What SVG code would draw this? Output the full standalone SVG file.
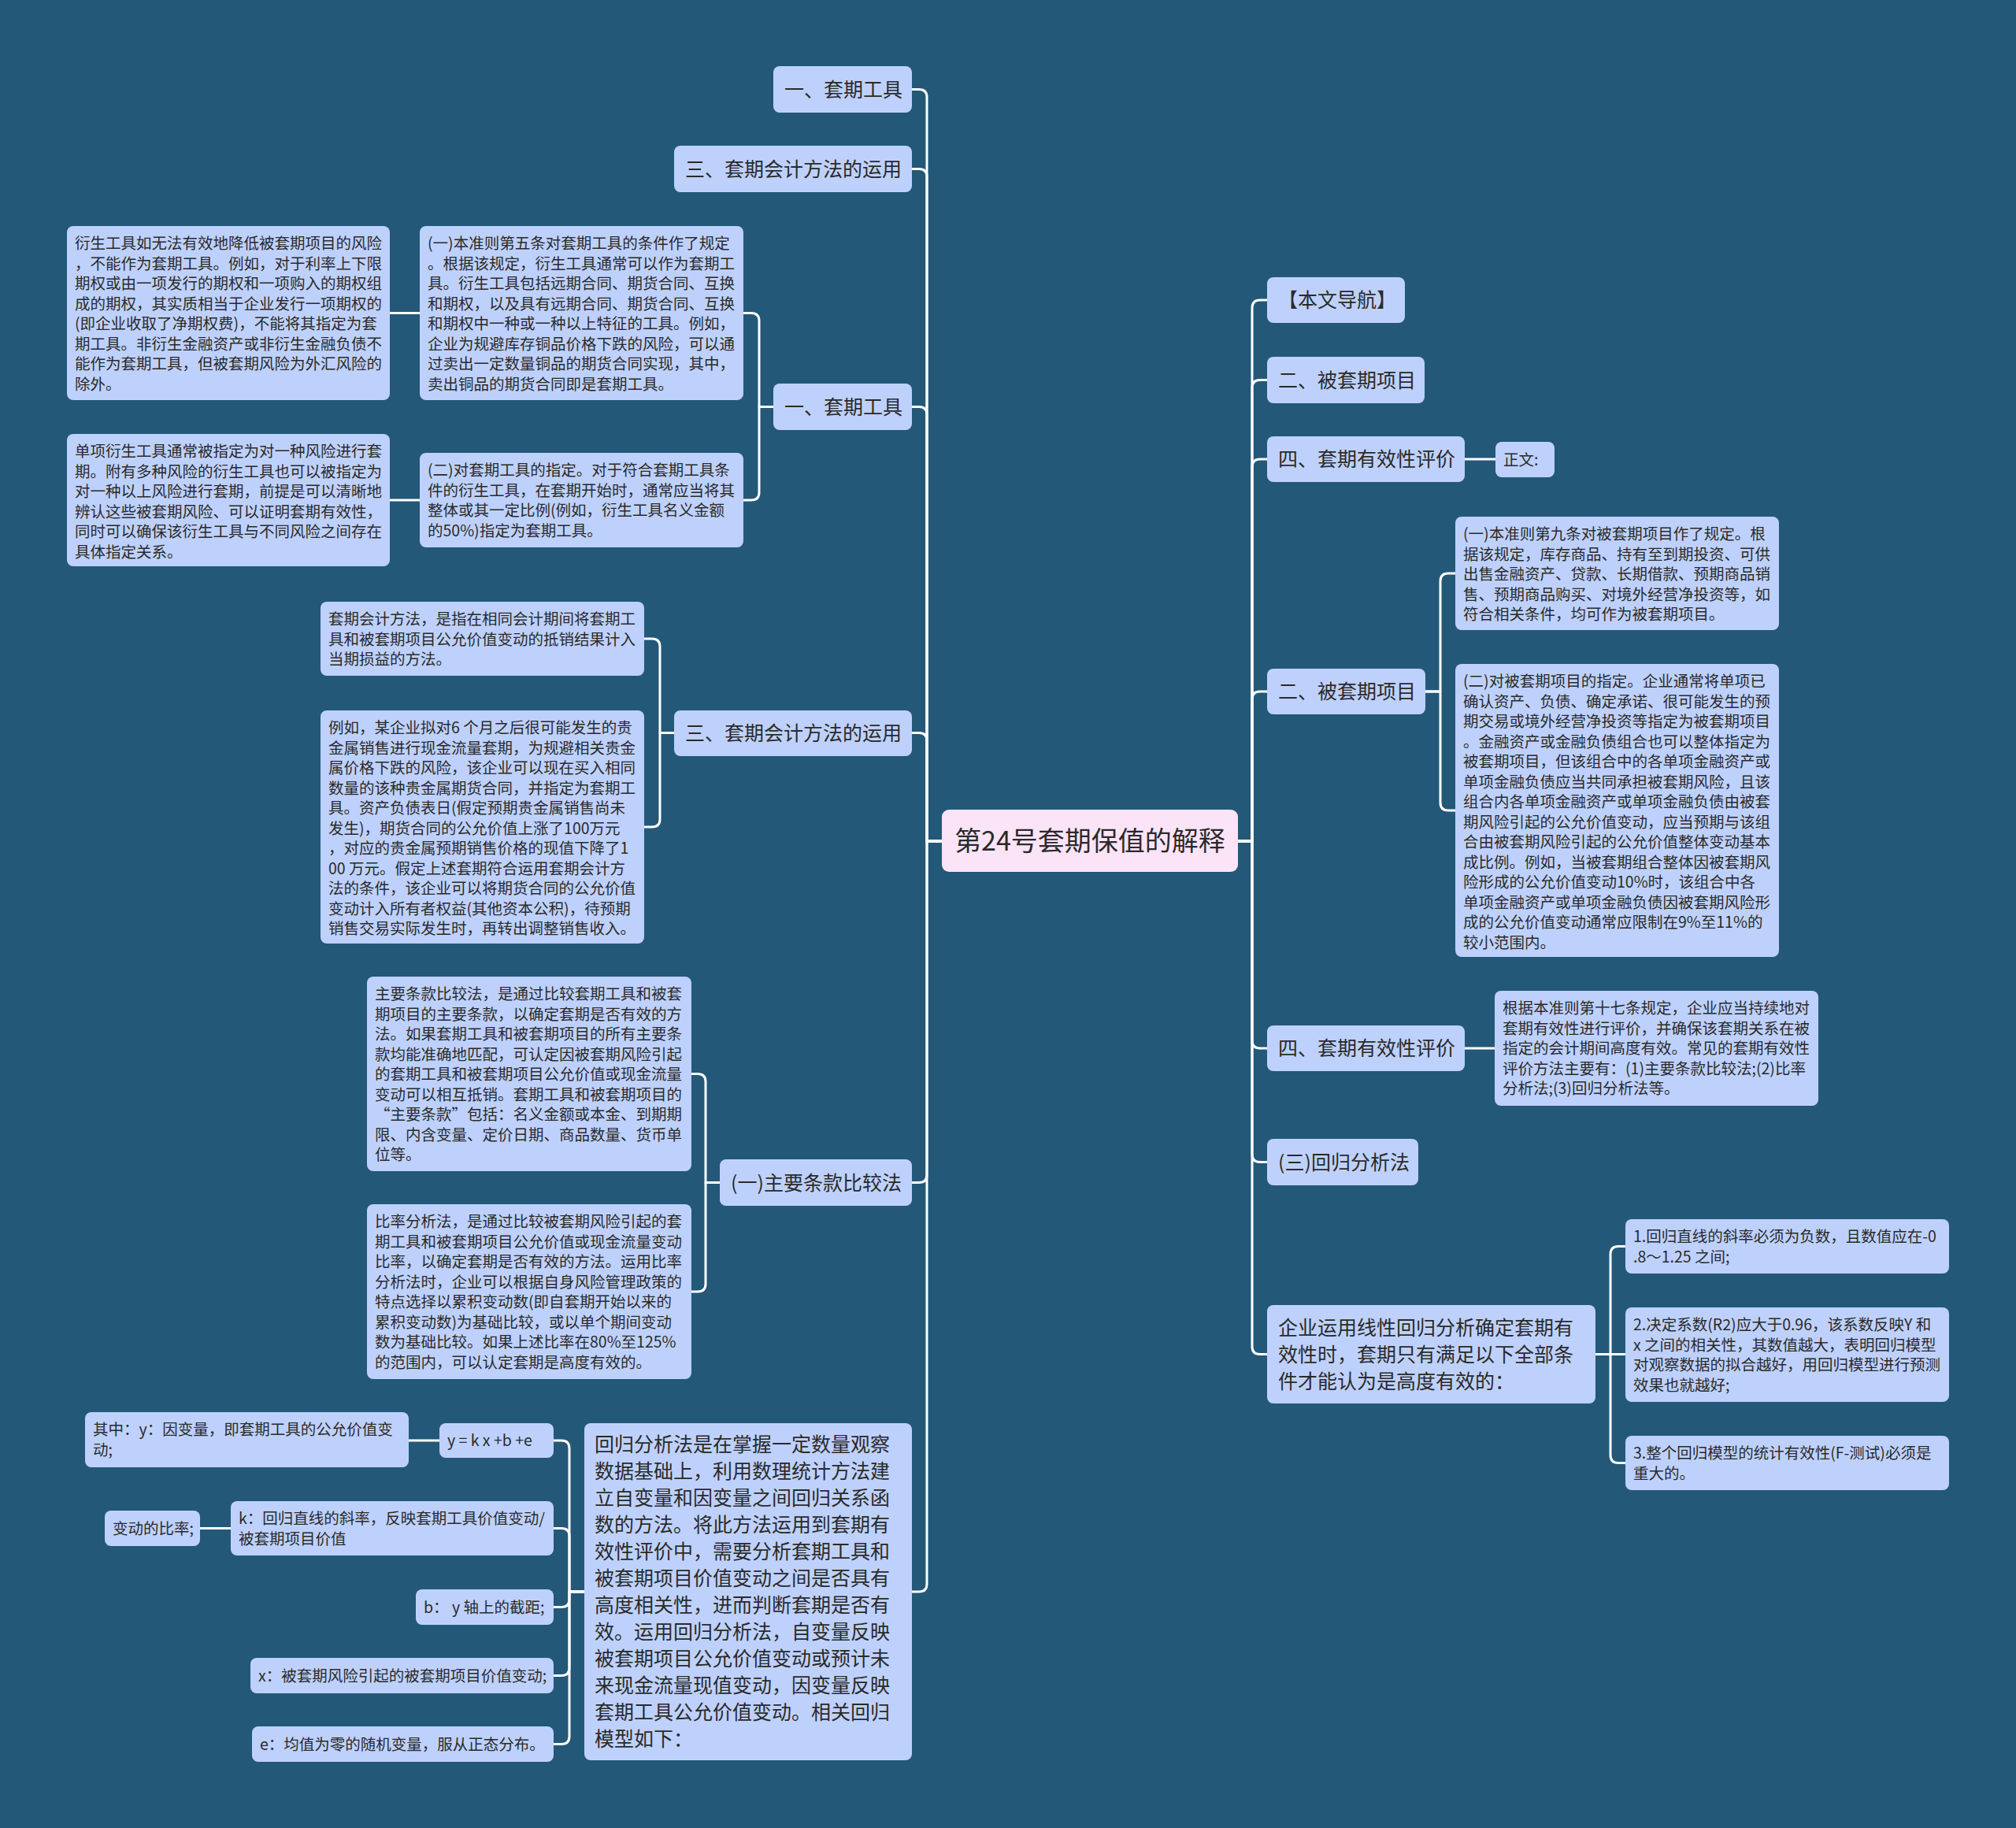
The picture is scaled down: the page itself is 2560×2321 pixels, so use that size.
<svg xmlns="http://www.w3.org/2000/svg" width="2560" height="2321" viewBox="0 0 2560 2321">
<style>
.bg{fill:#235878}
.n{fill:#BED1FC}
.ct{fill:#FCE4F8}
text{font-family:"Noto Sans CJK SC","Noto Sans",sans-serif;fill:#2a2a2a}
.s{font-size:19.5px}
.m{font-size:25px}
.c{font-size:34px}
.e{fill:none;stroke:#ffffff;stroke-width:3;stroke-linecap:round;stroke-linejoin:round}
</style>
<rect class="bg" x="0" y="0" width="2560" height="2321"/>
<g id="connectors">
<path class="e" d="M1196 1068 H1177 V123.5 Q1177 113.5 1167 113.5 H1158"/>
<path class="e" d="M1196 1068 H1177 V224.5 Q1177 214.5 1167 214.5 H1158"/>
<path class="e" d="M1196 1068 H1177 V526.5 Q1177 516.5 1167 516.5 H1158"/>
<path class="e" d="M1196 1068 H1177 V940.5 Q1177 930.5 1167 930.5 H1158"/>
<path class="e" d="M1196 1068 H1177 V1491.5 Q1177 1501.5 1167 1501.5 H1158"/>
<path class="e" d="M1196 1068 H1177 V2011 Q1177 2021 1167 2021 H1158"/>
<path class="e" d="M982 516.5 H964 V407.5 Q964 397.5 954 397.5 H944"/>
<path class="e" d="M982 516.5 H964 V625 Q964 635 954 635 H944"/>
<path class="e" d="M533 397.5 H495"/>
<path class="e" d="M533 635 H495"/>
<path class="e" d="M856 930.5 H838 V821 Q838 811 828 811 H818"/>
<path class="e" d="M856 930.5 H838 V1040 Q838 1050 828 1050 H818"/>
<path class="e" d="M914 1501.5 H896 V1373.5 Q896 1363.5 886 1363.5 H878"/>
<path class="e" d="M914 1501.5 H896 V1630 Q896 1640 886 1640 H878"/>
<path class="e" d="M742 2021 H723 V1839 Q723 1829 713 1829 H703"/>
<path class="e" d="M742 2021 H723 V1950.5 Q723 1940.5 713 1940.5 H703"/>
<path class="e" d="M742 2021 H723 V2030.5 Q723 2040.5 713 2040.5 H703"/>
<path class="e" d="M742 2021 H723 V2117.5 Q723 2127.5 713 2127.5 H703"/>
<path class="e" d="M742 2021 H723 V2204.5 Q723 2214.5 713 2214.5 H703"/>
<path class="e" d="M558 1829 H519"/>
<path class="e" d="M293 1940.5 H254"/>
<path class="e" d="M1572 1068 H1590 V391 Q1590 381 1600 381 H1609"/>
<path class="e" d="M1572 1068 H1590 V492.5 Q1590 482.5 1600 482.5 H1609"/>
<path class="e" d="M1572 1068 H1590 V593 Q1590 583 1600 583 H1609"/>
<path class="e" d="M1572 1068 H1590 V888 Q1590 878 1600 878 H1609"/>
<path class="e" d="M1572 1068 H1590 V1321 Q1590 1331 1600 1331 H1609"/>
<path class="e" d="M1572 1068 H1590 V1465.5 Q1590 1475.5 1600 1475.5 H1609"/>
<path class="e" d="M1572 1068 H1590 V1709.5 Q1590 1719.5 1600 1719.5 H1609"/>
<path class="e" d="M1860 583 H1899"/>
<path class="e" d="M1810 878 H1829 V738 Q1829 728 1839 728 H1848"/>
<path class="e" d="M1810 878 H1829 V1019 Q1829 1029 1839 1029 H1848"/>
<path class="e" d="M1860 1331 H1898"/>
<path class="e" d="M2026 1719.5 H2045 V1592.5 Q2045 1582.5 2055 1582.5 H2064"/>
<path class="e" d="M2026 1719.5 H2064"/>
<path class="e" d="M2026 1719.5 H2045 V1847.5 Q2045 1857.5 2055 1857.5 H2064"/>
</g>
<g id="center">
<rect class="ct" x="1196" y="1028" width="376" height="79" rx="9"/>
<text class="c" x="1384" y="1080" text-anchor="middle">第24号套期保值的解释</text>
</g>
<g id="L1"><rect class="n" x="982" y="84" width="176" height="59" rx="8"/><text class="m" x="996" y="122.5">一、套期工具</text></g>
<g id="L2"><rect class="n" x="856" y="185" width="302" height="59" rx="8"/><text class="m" x="870" y="223.5">三、套期会计方法的运用</text></g>
<g id="L3"><rect class="n" x="982" y="487" width="176" height="59" rx="8"/><text class="m" x="996" y="525.5">一、套期工具</text></g>
<g id="L3a"><rect class="n" x="85" y="287" width="410" height="221" rx="8"/>
<text class="s" x="95" y="316"><tspan x="95">衍生工具如无法有效地降低被套期项目的风险</tspan><tspan x="95" dy="25.5">，不能作为套期工具。例如，对于利率上下限</tspan><tspan x="95" dy="25.5">期权或由一项发行的期权和一项购入的期权组</tspan><tspan x="95" dy="25.5">成的期权，其实质相当于企业发行一项期权的</tspan><tspan x="95" dy="25.5">(即企业收取了净期权费)，不能将其指定为套</tspan><tspan x="95" dy="25.5">期工具。非衍生金融资产或非衍生金融负债不</tspan><tspan x="95" dy="25.5">能作为套期工具，但被套期风险为外汇风险的</tspan><tspan x="95" dy="25.5">除外。</tspan></text></g>
<g id="L3b"><rect class="n" x="533" y="287" width="411" height="221" rx="8"/>
<text class="s" x="543" y="316"><tspan x="543">(一)本准则第五条对套期工具的条件作了规定</tspan><tspan x="543" dy="25.5">。根据该规定，衍生工具通常可以作为套期工</tspan><tspan x="543" dy="25.5">具。衍生工具包括远期合同、期货合同、互换</tspan><tspan x="543" dy="25.5">和期权，以及具有远期合同、期货合同、互换</tspan><tspan x="543" dy="25.5">和期权中一种或一种以上特征的工具。例如，</tspan><tspan x="543" dy="25.5">企业为规避库存铜品价格下跌的风险，可以通</tspan><tspan x="543" dy="25.5">过卖出一定数量铜品的期货合同实现，其中，</tspan><tspan x="543" dy="25.5">卖出铜品的期货合同即是套期工具。</tspan></text></g>
<g id="L3c"><rect class="n" x="85" y="551" width="410" height="168" rx="8"/>
<text class="s" x="95" y="580"><tspan x="95">单项衍生工具通常被指定为对一种风险进行套</tspan><tspan x="95" dy="25.5">期。附有多种风险的衍生工具也可以被指定为</tspan><tspan x="95" dy="25.5">对一种以上风险进行套期，前提是可以清晰地</tspan><tspan x="95" dy="25.5">辨认这些被套期风险、可以证明套期有效性，</tspan><tspan x="95" dy="25.5">同时可以确保该衍生工具与不同风险之间存在</tspan><tspan x="95" dy="25.5">具体指定关系。</tspan></text></g>
<g id="L3d"><rect class="n" x="533" y="575" width="411" height="120" rx="8"/>
<text class="s" x="543" y="604"><tspan x="543">(二)对套期工具的指定。对于符合套期工具条</tspan><tspan x="543" dy="25.5">件的衍生工具，在套期开始时，通常应当将其</tspan><tspan x="543" dy="25.5">整体或其一定比例(例如，衍生工具名义金额</tspan><tspan x="543" dy="25.5">的50%)指定为套期工具。</tspan></text></g>
<g id="L4"><rect class="n" x="856" y="902" width="302" height="58" rx="8"/><text class="m" x="870" y="939.5">三、套期会计方法的运用</text></g>
<g id="L4a"><rect class="n" x="407" y="764" width="411" height="94" rx="8"/>
<text class="s" x="417" y="793"><tspan x="417">套期会计方法，是指在相同会计期间将套期工</tspan><tspan x="417" dy="25.5">具和被套期项目公允价值变动的抵销结果计入</tspan><tspan x="417" dy="25.5">当期损益的方法。</tspan></text></g>
<g id="L4b"><rect class="n" x="407" y="902" width="411" height="296" rx="8"/>
<text class="s" x="417" y="931"><tspan x="417">例如，某企业拟对6 个月之后很可能发生的贵</tspan><tspan x="417" dy="25.5">金属销售进行现金流量套期，为规避相关贵金</tspan><tspan x="417" dy="25.5">属价格下跌的风险，该企业可以现在买入相同</tspan><tspan x="417" dy="25.5">数量的该种贵金属期货合同，并指定为套期工</tspan><tspan x="417" dy="25.5">具。资产负债表日(假定预期贵金属销售尚未</tspan><tspan x="417" dy="25.5">发生)，期货合同的公允价值上涨了100万元</tspan><tspan x="417" dy="25.5">，对应的贵金属预期销售价格的现值下降了1</tspan><tspan x="417" dy="25.5">00 万元。假定上述套期符合运用套期会计方</tspan><tspan x="417" dy="25.5">法的条件，该企业可以将期货合同的公允价值</tspan><tspan x="417" dy="25.5">变动计入所有者权益(其他资本公积)，待预期</tspan><tspan x="417" dy="25.5">销售交易实际发生时，再转出调整销售收入。</tspan></text></g>
<g id="L5"><rect class="n" x="914" y="1472" width="244" height="59" rx="8"/><text class="m" x="928" y="1510.5">(一)主要条款比较法</text></g>
<g id="L5a"><rect class="n" x="466" y="1240" width="412" height="247" rx="8"/>
<text class="s" x="476" y="1269"><tspan x="476">主要条款比较法，是通过比较套期工具和被套</tspan><tspan x="476" dy="25.5">期项目的主要条款，以确定套期是否有效的方</tspan><tspan x="476" dy="25.5">法。如果套期工具和被套期项目的所有主要条</tspan><tspan x="476" dy="25.5">款均能准确地匹配，可认定因被套期风险引起</tspan><tspan x="476" dy="25.5">的套期工具和被套期项目公允价值或现金流量</tspan><tspan x="476" dy="25.5">变动可以相互抵销。套期工具和被套期项目的</tspan><tspan x="476" dy="25.5">“主要条款”包括：名义金额或本金、到期期</tspan><tspan x="476" dy="25.5">限、内含变量、定价日期、商品数量、货币单</tspan><tspan x="476" dy="25.5">位等。</tspan></text></g>
<g id="L5b"><rect class="n" x="466" y="1529" width="412" height="222" rx="8"/>
<text class="s" x="476" y="1558"><tspan x="476">比率分析法，是通过比较被套期风险引起的套</tspan><tspan x="476" dy="25.5">期工具和被套期项目公允价值或现金流量变动</tspan><tspan x="476" dy="25.5">比率，以确定套期是否有效的方法。运用比率</tspan><tspan x="476" dy="25.5">分析法时，企业可以根据自身风险管理政策的</tspan><tspan x="476" dy="25.5">特点选择以累积变动数(即自套期开始以来的</tspan><tspan x="476" dy="25.5">累积变动数)为基础比较，或以单个期间变动</tspan><tspan x="476" dy="25.5">数为基础比较。如果上述比率在80%至125%</tspan><tspan x="476" dy="25.5">的范围内，可以认定套期是高度有效的。</tspan></text></g>
<g id="L6"><rect class="n" x="742" y="1807" width="416" height="428" rx="8"/>
<text class="m" x="755" y="1843"><tspan x="755">回归分析法是在掌握一定数量观察</tspan><tspan x="755" dy="34">数据基础上，利用数理统计方法建</tspan><tspan x="755" dy="34">立自变量和因变量之间回归关系函</tspan><tspan x="755" dy="34">数的方法。将此方法运用到套期有</tspan><tspan x="755" dy="34">效性评价中，需要分析套期工具和</tspan><tspan x="755" dy="34">被套期项目价值变动之间是否具有</tspan><tspan x="755" dy="34">高度相关性，进而判断套期是否有</tspan><tspan x="755" dy="34">效。运用回归分析法，自变量反映</tspan><tspan x="755" dy="34">被套期项目公允价值变动或预计未</tspan><tspan x="755" dy="34">来现金流量现值变动，因变量反映</tspan><tspan x="755" dy="34">套期工具公允价值变动。相关回归</tspan><tspan x="755" dy="34">模型如下：</tspan></text></g>
<g id="L6a"><rect class="n" x="558" y="1807" width="145" height="44" rx="8"/><text class="s" x="568" y="1836">y = k x +b +e</text></g>
<g id="L6a1"><rect class="n" x="108" y="1793" width="411" height="70" rx="8"/>
<text class="s" x="118" y="1822"><tspan x="118">其中：y：因变量，即套期工具的公允价值变</tspan><tspan x="118" dy="25.5">动;</tspan></text></g>
<g id="L6b"><rect class="n" x="293" y="1906" width="410" height="69" rx="8"/>
<text class="s" x="303" y="1935"><tspan x="303">k：回归直线的斜率，反映套期工具价值变动/</tspan><tspan x="303" dy="25.5">被套期项目价值</tspan></text></g>
<g id="L6b1"><rect class="n" x="133" y="1918" width="121" height="45" rx="8"/><text class="s" x="143" y="1947.5">变动的比率;</text></g>
<g id="L6c"><rect class="n" x="528" y="2018" width="175" height="45" rx="8"/><text class="s" x="538" y="2047.5">b：  y 轴上的截距;</text></g>
<g id="L6d"><rect class="n" x="318" y="2105" width="385" height="45" rx="8"/><text class="s" x="328" y="2134.5">x：被套期风险引起的被套期项目价值变动;</text></g>
<g id="L6e"><rect class="n" x="320" y="2192" width="383" height="45" rx="8"/><text class="s" x="330" y="2221.5">e：均值为零的随机变量，服从正态分布。</text></g>
<g id="R1"><rect class="n" x="1609" y="352" width="175" height="58" rx="8"/><text class="m" x="1623" y="390">【本文导航】</text></g>
<g id="R2"><rect class="n" x="1609" y="453" width="200" height="59" rx="8"/><text class="m" x="1623" y="491.5">二、被套期项目</text></g>
<g id="R3"><rect class="n" x="1609" y="554" width="251" height="58" rx="8"/><text class="m" x="1623" y="592">四、套期有效性评价</text></g>
<g id="R3a"><rect class="n" x="1899" y="561" width="75" height="45" rx="8"/><text class="s" x="1909" y="590.5">正文:</text></g>
<g id="R4"><rect class="n" x="1609" y="849" width="201" height="58" rx="8"/><text class="m" x="1623" y="887">二、被套期项目</text></g>
<g id="R4a"><rect class="n" x="1848" y="656" width="411" height="144" rx="8"/>
<text class="s" x="1858" y="685"><tspan x="1858">(一)本准则第九条对被套期项目作了规定。根</tspan><tspan x="1858" dy="25.5">据该规定，库存商品、持有至到期投资、可供</tspan><tspan x="1858" dy="25.5">出售金融资产、贷款、长期借款、预期商品销</tspan><tspan x="1858" dy="25.5">售、预期商品购买、对境外经营净投资等，如</tspan><tspan x="1858" dy="25.5">符合相关条件，均可作为被套期项目。</tspan></text></g>
<g id="R4b"><rect class="n" x="1848" y="843" width="411" height="372" rx="8"/>
<text class="s" x="1858" y="872"><tspan x="1858">(二)对被套期项目的指定。企业通常将单项已</tspan><tspan x="1858" dy="25.5">确认资产、负债、确定承诺、很可能发生的预</tspan><tspan x="1858" dy="25.5">期交易或境外经营净投资等指定为被套期项目</tspan><tspan x="1858" dy="25.5">。金融资产或金融负债组合也可以整体指定为</tspan><tspan x="1858" dy="25.5">被套期项目，但该组合中的各单项金融资产或</tspan><tspan x="1858" dy="25.5">单项金融负债应当共同承担被套期风险，且该</tspan><tspan x="1858" dy="25.5">组合内各单项金融资产或单项金融负债由被套</tspan><tspan x="1858" dy="25.5">期风险引起的公允价值变动，应当预期与该组</tspan><tspan x="1858" dy="25.5">合由被套期风险引起的公允价值整体变动基本</tspan><tspan x="1858" dy="25.5">成比例。例如，当被套期组合整体因被套期风</tspan><tspan x="1858" dy="25.5">险形成的公允价值变动10%时，该组合中各</tspan><tspan x="1858" dy="25.5">单项金融资产或单项金融负债因被套期风险形</tspan><tspan x="1858" dy="25.5">成的公允价值变动通常应限制在9%至11%的</tspan><tspan x="1858" dy="25.5">较小范围内。</tspan></text></g>
<g id="R5"><rect class="n" x="1609" y="1302" width="251" height="58" rx="8"/><text class="m" x="1623" y="1340">四、套期有效性评价</text></g>
<g id="R5a"><rect class="n" x="1898" y="1258" width="411" height="146" rx="8"/>
<text class="s" x="1908" y="1287"><tspan x="1908">根据本准则第十七条规定，企业应当持续地对</tspan><tspan x="1908" dy="25.5">套期有效性进行评价，并确保该套期关系在被</tspan><tspan x="1908" dy="25.5">指定的会计期间高度有效。常见的套期有效性</tspan><tspan x="1908" dy="25.5">评价方法主要有：(1)主要条款比较法;(2)比率</tspan><tspan x="1908" dy="25.5">分析法;(3)回归分析法等。</tspan></text></g>
<g id="R6"><rect class="n" x="1609" y="1446" width="192" height="59" rx="8"/><text class="m" x="1623" y="1484.5">(三)回归分析法</text></g>
<g id="R7"><rect class="n" x="1609" y="1657" width="417" height="125" rx="8"/>
<text class="m" x="1623" y="1695"><tspan x="1623">企业运用线性回归分析确定套期有</tspan><tspan x="1623" dy="34">效性时，套期只有满足以下全部条</tspan><tspan x="1623" dy="34">件才能认为是高度有效的：</tspan></text></g>
<g id="R7a"><rect class="n" x="2064" y="1548" width="411" height="69" rx="8"/>
<text class="s" x="2074" y="1577"><tspan x="2074">1.回归直线的斜率必须为负数，且数值应在-0</tspan><tspan x="2074" dy="25.5">.8～1.25 之间;</tspan></text></g>
<g id="R7b"><rect class="n" x="2064" y="1660" width="411" height="120" rx="8"/>
<text class="s" x="2074" y="1689"><tspan x="2074">2.决定系数(R2)应大于0.96，该系数反映Y 和</tspan><tspan x="2074" dy="25.5">x 之间的相关性，其数值越大，表明回归模型</tspan><tspan x="2074" dy="25.5">对观察数据的拟合越好，用回归模型进行预测</tspan><tspan x="2074" dy="25.5">效果也就越好;</tspan></text></g>
<g id="R7c"><rect class="n" x="2064" y="1823" width="411" height="69" rx="8"/>
<text class="s" x="2074" y="1852"><tspan x="2074">3.整个回归模型的统计有效性(F-测试)必须是</tspan><tspan x="2074" dy="25.5">重大的。</tspan></text></g>
</svg>
